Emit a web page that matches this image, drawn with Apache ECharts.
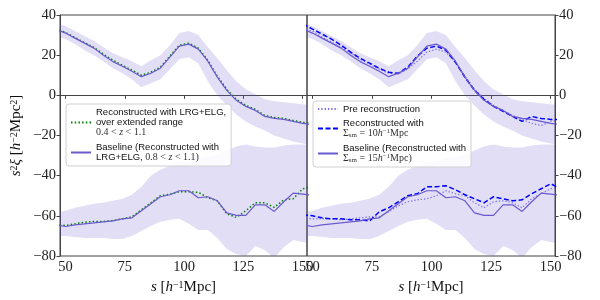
<!DOCTYPE html>
<html><head><meta charset="utf-8">
<script src="https://cdn.jsdelivr.net/npm/echarts@6/dist/echarts.min.js"></script>
<style>html,body{margin:0;padding:0;background:#fff}#c{width:600px;height:300px}</style>
</head><body><div id="c"></div>
<script>
// separation s [h^-1 Mpc]
const s = [46, 50, 54, 58, 62, 66, 70, 74, 78, 82, 86, 90, 94, 98, 102, 106, 110, 114, 118, 122, 126, 130, 134, 138, 142, 146, 150, 154];
const xTicks = [50, 75, 100, 125, 150];
// upper curves
const baseUp  = [33, 31, 28.5, 26, 23.5, 20, 16.8, 14.5, 12, 9.3, 11, 13.5, 19, 24.5, 25.5, 23, 17, 9, 2.5, -2.5, -5.5, -7.5, -10.5, -11.5, -12, -13, -14, -14.5];
const greenUp = [33, 31.3, 28.8, 26.3, 23.8, 20.5, 17.5, 15, 12.5, 10, 11.5, 14, 19.5, 25, 26, 23.5, 17.5, 9.5, 3, -2, -5, -7, -10, -11, -11.5, -12.5, -13.5, -14];
const preUp   = [33, 32, 29, 26.5, 24, 21, 18, 15.5, 13, 11, 10.5, 13, 17, 21.5, 23, 21.5, 16.5, 9.5, 3, -1.5, -5, -7.5, -10, -12, -14, -15, -13, -12];
const dashUp  = [35.5, 33, 30.5, 28, 25, 21.5, 18.5, 16, 13.5, 11.5, 11, 14, 19.5, 23.5, 24.5, 22.5, 16.5, 9, 2.5, -2, -5.5, -8, -10.5, -13, -10.5, -11.5, -12, -12];
const bandUpHi = [36, 34.5, 32, 29.5, 27, 24, 21, 19, 17, 14.5, 17.5, 20, 25, 31, 32, 30, 24, 18.5, 12.5, 7, 3, 0.5, -2, -3, -3.5, -4, -4.5, -5];
const bandUpLo = [29.5, 28, 25.5, 22.5, 20, 17, 13.5, 11, 8, 4, 6, 8, 13, 18, 19, 16, 7, 0, -5, -9.5, -13, -15.5, -17.5, -20, -21.5, -23, -24, -24.5];
// lower curves
const baseLo  = [-64.5, -65.3, -64.5, -64, -63.5, -63, -62.5, -61.5, -61, -57.5, -54, -50.5, -49.5, -47.5, -47.5, -51, -50.5, -52.5, -58.5, -59.8, -59.8, -54.5, -54.5, -57.8, -53, -48.7, -49.2, -49.8];
const greenLo = [-64.5, -64.8, -64, -63.2, -62.8, -62.8, -62.3, -61.5, -60.5, -57, -53.5, -50, -49.3, -48, -48, -48.3, -51, -52.5, -59, -60.8, -57.5, -53.5, -53.5, -55.8, -52, -51.5, -46.5, -45.5];
const preLo   = [-61, -61.5, -61.5, -61.5, -62, -61.5, -61, -60.5, -60.5, -58, -55, -53, -52, -51.5, -50, -47.5, -49, -50, -53.5, -56, -53, -52.5, -53.5, -56, -51.5, -49, -46.5, -46];
const dashLo  = [-59.5, -60, -61, -61.5, -61.5, -62, -62, -62.5, -58, -56, -53, -50, -49, -45.5, -45.5, -45, -47, -49.5, -51.5, -53.5, -50.5, -51.5, -52.5, -52, -49, -46.5, -44, -46.5];
const bandLoHi = [-58.5, -57.5, -56, -55, -54, -53.5, -52.5, -51.5, -49.5, -45.5, -40, -37, -35, -33.5, -33, -31.5, -30.5, -29.5, -27.5, -25.5, -24.5, -25.5, -26, -26, -25, -24.5, -24.5, -24.5];
const bandLoLo = [-70, -70, -70.5, -71, -71, -71, -71.5, -71.5, -70, -67.5, -65, -63, -62, -61.5, -64, -67, -67, -71, -76.5, -79, -80, -75, -77, -81, -75.5, -72, -73, -74];

const N_GREEN = 'green';
const N_BASEL = 'baseL';
const N_PRE = 'pre';
const N_DASH = 'dash';
const N_BASER = 'baseR';
const legendText = {
  green: 'Reconstructed with LRG+ELG,\nover extended range\n{m|0.4 < }{mi|z}{m| < 1.1}',
  baseL: 'Baseline (Reconstructed with\nLRG+ELG, {m|0.8 < }{mi|z}{m| < 1.1)}',
  pre: 'Pre reconstruction',
  dash: 'Reconstructed with\n{m|Σ}{sub|sm}{m| = 10}{mi|h}{sup|−1}{m|Mpc}',
  baseR: 'Baseline (Reconstructed with\n{m|Σ}{sub|sm}{m| = 15}{mi|h}{sup|−1}{m|Mpc)}'
};

const C_BASE = '#6a5acd', C_GREEN = '#008000', C_DASH = '#0000ff', C_PRE = '#7b68ee';
const BAND = 'rgba(106,90,205,0.2)';
const serif = 'Liberation Serif';

const pairs = ys => s.map((x, i) => [x, ys[i]]);

function band(idx, hi, lo) {
  return {
    type: 'custom', xAxisIndex: idx, yAxisIndex: idx, silent: true, z: 1,
    data: s.map((x, i) => [x, lo[i], hi[i]]),
    encode: {x: 0, y: [1, 2]},
    renderItem: function (params, api) {
      if (params.dataIndexInside !== 0) return null;
      const n = params.dataInsideLength;
      const top = [], bot = [];
      for (let i = 0; i < n; i++) {
        const x = api.value(0, i);
        top.push(api.coord([x, api.value(2, i)]));
        bot.push(api.coord([x, api.value(1, i)]));
      }
      const cs = params.coordSys;
      return {
        type: 'polygon',
        shape: {points: top.concat(bot.reverse())},
        style: {fill: BAND},
        clipPath: {type: 'rect', shape: {x: cs.x, y: cs.y, width: cs.width, height: cs.height}}
      };
    }
  };
}
function line(idx, name, ys, color, type, width) {
  return {type: 'line', name, xAxisIndex: idx, yAxisIndex: idx, data: pairs(ys), symbol: 'none', showSymbol: false,
          lineStyle: {color, type, width}, itemStyle: {color}, z: 3, animation: false};
}

const rich = {
  m: {fontFamily: serif, fontSize: 10, color: '#333', lineHeight: 11},
  mi: {fontFamily: serif, fontStyle: 'italic', fontSize: 10, color: '#333', lineHeight: 11},
  sub: {fontFamily: serif, fontSize: 7, color: '#333', verticalAlign: 'bottom', lineHeight: 8},
  sup: {fontFamily: serif, fontSize: 7, color: '#333', verticalAlign: 'top', lineHeight: 8}
};
const nameRich = {
  i: {fontFamily: serif, fontStyle: 'italic', fontSize: 15, color: '#111'},
  n: {fontFamily: serif, fontSize: 15, color: '#111'},
  sup: {fontFamily: serif, fontSize: 10, color: '#111', verticalAlign: 'top', lineHeight: 12}
};

function xAxis(idx) {
  return {type: 'value', gridIndex: idx, min: 47.7, max: 151.8,
    axisLine: {show: true, lineStyle: {color: '#444', width: 1}},
    axisTick: {show: true, customValues: xTicks, length: 3.5, lineStyle: {color: '#444'}},
    axisLabel: {customValues: xTicks, fontFamily: serif, fontSize: 14.5, color: '#222', margin: 4},
    splitLine: {show: false},
    name: '{i|s} {n|[}{i|h}{sup|−1}{n|Mpc]}', nameLocation: 'middle', nameGap: 21,
    nameTextStyle: {rich: nameRich, fontFamily: serif, fontSize: 15}};
}
function yAxis(idx, pos) {
  const ax = {type: 'value', gridIndex: idx, min: -80, max: 40, interval: 20, position: pos,
    axisLine: {show: true, lineStyle: {color: '#444', width: 1}},
    axisTick: {show: true, length: 3.5, lineStyle: {color: '#444'}},
    axisLabel: {fontFamily: serif, fontSize: 14.5, color: '#222', margin: 4,
      formatter: v => String(v).replace('-', '−')},
    splitLine: {show: false}};
  if (pos === 'left') {
    ax.name = '{i|s}{sup|2}{i|ξ} {n|[}{i|h}{sup|−2}{n|Mpc}{sup|2}{n|]}';
    ax.nameLocation = 'middle';
    ax.nameGap = 36;
    ax.nameTextStyle = {rich: nameRich, fontFamily: serif, fontSize: 15};
  }
  return ax;
}

const legendBase = {
  orient: 'vertical', itemWidth: 20, itemHeight: 10, itemGap: 4,
  backgroundColor: 'rgba(255,255,255,0.85)', borderColor: '#d0d0d0', borderWidth: 1, borderRadius: 3,
  padding: [3, 5, 3, 4], selectedMode: false,
  itemStyle: {opacity: 0},
  textStyle: {fontFamily: 'Liberation Sans', fontSize: 9.5, color: '#111', lineHeight: 10, rich},
  formatter: n => legendText[n]
};

const option = {
  animation: false,
  backgroundColor: '#fff',
  grid: [
    {left: 60, top: 15, width: 247, height: 241, show: true, borderColor: '#444', borderWidth: 1, backgroundColor: 'transparent'},
    {left: 307, top: 15, width: 248, height: 241, show: true, borderColor: '#444', borderWidth: 1, backgroundColor: 'transparent'}
  ],
  xAxis: [xAxis(0), xAxis(1)],
  yAxis: [yAxis(0, 'left'), yAxis(1, 'right')],
  legend: [
    Object.assign({}, legendBase, {left: 66, top: 104, data: [N_GREEN, N_BASEL]}),
    Object.assign({}, legendBase, {left: 313, top: 101, data: [N_PRE, N_DASH, N_BASER]})
  ],
  series: [
    band(0, bandUpHi, bandUpLo),
    band(0, bandLoHi, bandLoLo),
    band(1, bandUpHi, bandUpLo),
    band(1, bandLoHi, bandLoLo),
    line(0, N_GREEN, greenUp, C_GREEN, [1.5, 2.2], 1.5),
    line(0, N_GREEN, greenLo, C_GREEN, [1.5, 2.2], 1.5),
    line(0, N_BASEL, baseUp, C_BASE, 'solid', 1.2),
    line(0, N_BASEL, baseLo, C_BASE, 'solid', 1.2),
    line(1, N_PRE, preUp, C_PRE, [1.3, 2], 1.2),
    line(1, N_PRE, preLo, C_PRE, [1.3, 2], 1.2),
    line(1, N_DASH, dashUp, C_DASH, [5, 2.5], 1.5),
    line(1, N_DASH, dashLo, C_DASH, [5, 2.5], 1.5),
    line(1, N_BASER, baseUp, C_BASE, 'solid', 1.2),
    line(1, N_BASER, baseLo, C_BASE, 'solid', 1.2)
  ]
};
const chart = echarts.init(document.getElementById('c'), null, {renderer: 'canvas'});
chart.setOption(option);
</script>
</body></html>
